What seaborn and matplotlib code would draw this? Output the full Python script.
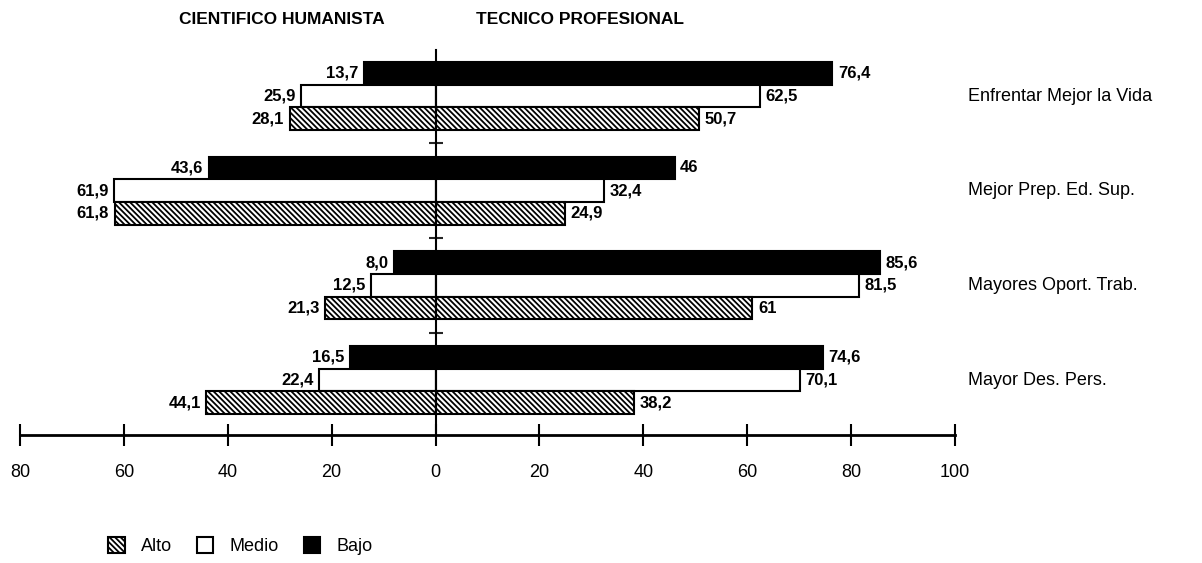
import pandas as pd
import matplotlib
matplotlib.use("Agg")
import matplotlib.pyplot as plt
import seaborn as sns
from matplotlib.patches import Patch

# --------------------------------------------------------------
# Data
# --------------------------------------------------------------
categorias = [
    "Enfrentar Mejor la Vida",
    "Mejor Prep. Ed. Sup.",
    "Mayores Oport. Trab.",
    "Mayor Des. Pers.",
]
niveles = ["Bajo", "Medio", "Alto"]

# Cientifico Humanista (left side)
ch_bajo = [13.7, 43.6, 8.0, 16.5]
ch_medio = [25.9, 61.9, 12.5, 22.4]
ch_alto = [28.1, 61.8, 21.3, 44.1]

# Tecnico Profesional (right side)
tp_bajo = [76.4, 46, 85.6, 74.6]
tp_medio = [62.5, 32.4, 81.5, 70.1]
tp_alto = [50.7, 24.9, 61, 38.2]

x_ticks = [-80, -60, -40, -20, 0, 20, 40, 60, 80, 100]

rows = []
for nivel, ch, tp in zip(niveles, [ch_bajo, ch_medio, ch_alto], [tp_bajo, tp_medio, tp_alto]):
    for cat, a, b in zip(categorias, ch, tp):
        rows.append({"cat": cat, "nivel": nivel, "ch": -a, "tp": b})
df = pd.DataFrame(rows)


def fmt(v):
    # integers shown without decimals, others with decimal comma
    if isinstance(v, int):
        return str(v)
    return f"{v:.1f}".replace(".", ",")


# --------------------------------------------------------------
# Plot
# --------------------------------------------------------------
sns.set_style("white")
plt.rcParams["font.family"] = ["Liberation Sans", "DejaVu Sans"]
plt.rcParams["text.color"] = "black"
plt.rcParams["xtick.color"] = "black"
plt.rcParams["xtick.labelcolor"] = "black"
plt.rcParams["hatch.linewidth"] = 1.3

HATCH = "\\" * 6

fig = plt.figure(figsize=(12.02, 5.63), dpi=100)
ax = fig.add_axes([20 / 1202, 1 - 435 / 563, 935 / 1202, 385 / 563])

palette = {"Bajo": "black", "Medio": "white", "Alto": "white"}
for col in ["ch", "tp"]:
    sns.barplot(
        data=df, x=col, y="cat", hue="nivel", order=categorias, hue_order=niveles,
        palette=palette, saturation=1, width=0.72, edgecolor="black",
        linewidth=1.5, legend=False, ax=ax, orient="h",
    )

# hatch for "Alto" and value labels
values = [ch_bajo, ch_medio, ch_alto, tp_bajo, tp_medio, tp_alto]
for i, cont in enumerate(ax.containers):
    if i % 3 == 2:
        for p in cont:
            p.set_hatch(HATCH)
    ax.bar_label(cont, labels=[fmt(v) for v in values[i]], padding=4,
                 fontsize=12, fontweight="bold", color="black")

ax.set_xlim(-80, 100)
ax.set_ylim(3.58, -0.486)

ax.set_xticks(x_ticks)
ax.set_xticklabels([str(abs(t)) for t in x_ticks], fontsize=13)
ax.set_yticks([0.5, 1.5, 2.5])
ax.set_yticklabels([])
ax.tick_params(axis="x", direction="inout", length=16, width=1.5, pad=13, bottom=True)
ax.tick_params(axis="y", direction="inout", length=10, width=1.5, left=True)
ax.set_xlabel("")
ax.set_ylabel("")

for s in ["top", "right"]:
    ax.spines[s].set_visible(False)
ax.spines["left"].set_position(("data", 0))
ax.spines["left"].set_linewidth(1.5)
ax.spines["left"].set_color("black")
ax.spines["bottom"].set_linewidth(2)
ax.spines["bottom"].set_color("black")

for i, cat in enumerate(categorias):
    ax.text(102.5, i, cat, va="center", ha="left", fontsize=13)

fig.text(282 / 1202, 1 - 20 / 563, "CIENTIFICO HUMANISTA", ha="center", va="center",
         fontsize=12.5, fontweight="bold")
fig.text(580 / 1202, 1 - 20 / 563, "TECNICO PROFESIONAL", ha="center", va="center",
         fontsize=12.5, fontweight="bold")

handles = [
    Patch(facecolor="white", edgecolor="black", hatch=HATCH, linewidth=1.5),
    Patch(facecolor="white", edgecolor="black", linewidth=1.5),
    Patch(facecolor="black", edgecolor="black", linewidth=1.5),
]
fig.legend(handles, ["Alto", "Medio", "Bajo"], ncol=3, frameon=False,
           loc="lower left", bbox_to_anchor=(92 / 1202, -0.015), fontsize=13,
           handlelength=0.9, handleheight=1.0, columnspacing=1.4, handletextpad=0.9)

plt.savefig("out.png", dpi=100)
